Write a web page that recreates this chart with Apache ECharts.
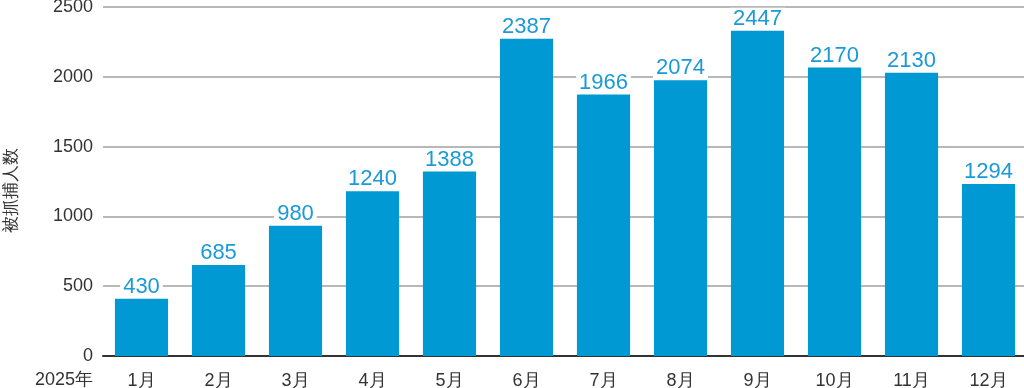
<!DOCTYPE html>
<html>
<head>
<meta charset="utf-8">
<style>
  html, body { margin: 0; padding: 0; background: #fff; }
  #chart { width: 1024px; height: 388px; }
</style>
<script src="https://cdn.jsdelivr.net/npm/echarts@6/dist/echarts.min.js"></script>
</head>
<body>
<div id="chart"></div>
<script>
const months = ['1月', '2月', '3月', '4月', '5月', '6月', '7月', '8月', '9月', '10月', '11月', '12月']
const arrests = [430, 685, 980, 1240, 1388, 2387, 1966, 2074, 2447, 2170, 2130, 1294]
const yTicks = [0, 500, 1000, 1500, 2000, 2500]
const yearLabel = '2025年'
const yName = '被抓捕人数'

// the bars in the source are drawn a bit short of their printed values,
// so they sit on a hidden axis with a slightly larger top
const barAxisMax = 2625

const chart = echarts.init(document.getElementById('chart'))
const font = 'Liberation Sans, Arial, Helvetica, sans-serif'

chart.setOption({
  animation: false,
  grid: { left: 103, right: -3, top: 7, bottom: 32, containLabel: false, outerBoundsMode: 'none' },
  xAxis: {
    type: 'category',
    data: months,
    axisLine: { lineStyle: { color: '#333', width: 2 } },
    axisTick: { show: false },
    axisLabel: { color: '#333', fontSize: 18, fontFamily: font, margin: 16 }
  },
  yAxis: [
    {
      type: 'value',
      min: yTicks[0],
      max: yTicks[yTicks.length - 1],
      interval: yTicks[1] - yTicks[0],
      name: yName,
      nameLocation: 'middle',
      nameGap: 83,
      nameTextStyle: { color: '#333', fontSize: 17, fontFamily: font, padding: [0, 18, 0, 0] },
      axisLine: { show: false },
      axisTick: { show: false },
      axisLabel: { color: '#333', fontSize: 18, fontFamily: font, margin: 10, formatter: v => String(v) },
      splitLine: { lineStyle: { color: '#a0a0a0', width: 1.5 } }
    },
    {
      type: 'value',
      min: 0,
      max: barAxisMax,
      show: false,
      splitLine: { show: false }
    }
  ],
  graphic: [
    {
      type: 'text',
      left: 35,
      top: 371,
      style: { text: yearLabel, fill: '#333', fontSize: 18, fontFamily: font }
    }
  ],
  series: [
    {
      type: 'bar',
      yAxisIndex: 1,
      data: arrests,
      barCategoryGap: '31%',
      itemStyle: { color: '#0099d4' },
      label: {
        show: true,
        position: 'top',
        distance: 1,
        color: '#1a9ad6',
        fontSize: 22,
        fontFamily: font,
        backgroundColor: '#fff',
        padding: [0, 3, 0, 3]
      }
    }
  ]
})
</script>
</body>
</html>
